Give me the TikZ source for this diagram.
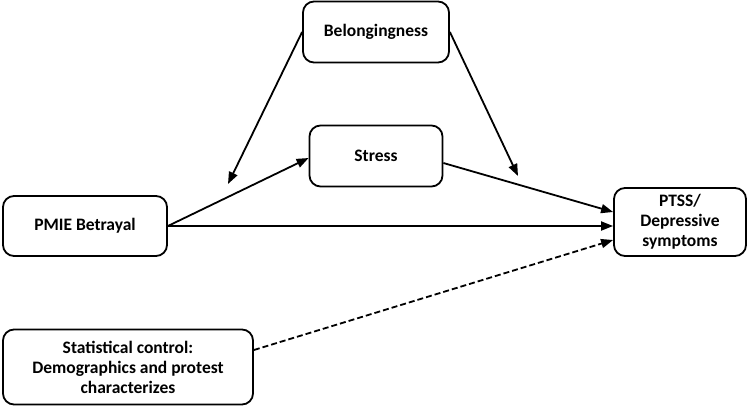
\documentclass[tikz,border=0pt]{standalone}
\usepackage{fontspec}
\setmainfont{Carlito}
\usetikzlibrary{arrows.meta}
\begin{document}
\begin{tikzpicture}[x=1pt, y=-1pt,
    box/.style={draw, line width=1.8pt, rounded corners=11pt, align=center, inner sep=0pt,
                font=\fontsize{17.5}{20}\selectfont\bfseries},
    arr/.style={line width=1.8pt, -{Triangle[length=12pt, width=9pt]}}]

    \useasboundingbox (0,0) rectangle (751,407);

    % Top boxes
    \node[box, minimum width=146pt, minimum height=61pt] (bel) at (376,32) {Belongingness};
    \node[box, minimum width=133pt, minimum height=61pt] (str) at (376,156) {Stress};

    % Left boxes
    \node[box, minimum width=164pt, minimum height=60pt] (pmie) at (85,226) {PMIE Betrayal};
    \node[box, minimum width=250pt, minimum height=75pt] (ctrl) at (128,367)
        {Statistical control:\\Demographics and protest\\characterizes};

    % Outcome
    \node[box, minimum width=132pt, minimum height=68pt] (ptss) at (680,222)
        {PTSS/\\Depressive\\symptoms};

    % Moderation targets
    \coordinate (m1) at (228,184);
    \coordinate (m2) at (518,176);

    % Edges
    \draw[arr] (pmie.east) -- (str.west |- 0,158);
    \draw[arr] (str.east |- 0,163) -- (ptss.west |- 0,212);
    \draw[arr] (pmie.east) -- (ptss.west |- 0,226);
    \draw[arr, dash pattern=on 6pt off 3pt] (ctrl.east |- 0,350) -- (ptss.west |- 0,240);
    \draw[arr] (bel.west) -- (m1);
    \draw[arr] (bel.east) -- (m2);

\end{tikzpicture}
\end{document}
